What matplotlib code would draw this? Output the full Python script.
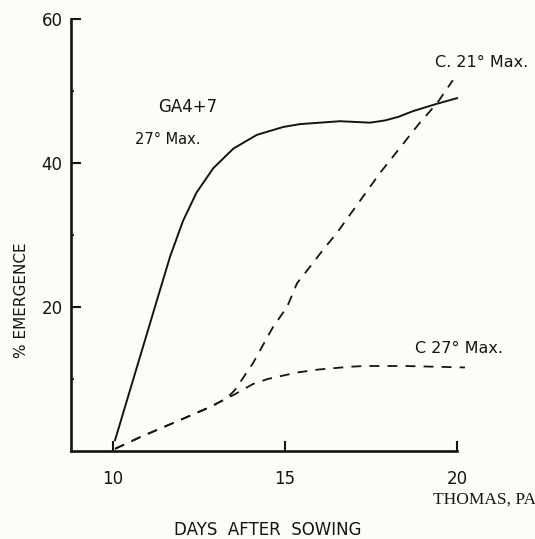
import matplotlib.pyplot as plt

# values (days after sowing, % emergence)
ga_days = [10.06, 11.32, 11.66, 12.04, 12.43, 12.92, 13.50, 14.18, 14.95, 15.44,
           16.60, 17.47, 17.90, 18.29, 18.72, 19.40, 20.0]
ga_pct = [1.5, 21.6, 27.0, 32.0, 35.9, 39.3, 42.0, 43.9, 45.0, 45.4,
          45.8, 45.6, 45.9, 46.4, 47.2, 48.2, 49.0]

c21_days = [10.06, 10.78, 11.95, 12.82, 13.30, 13.55, 14.07, 14.65, 15.06, 15.35,
            15.73, 16.10, 16.51, 17.76, 18.92, 19.42, 19.88]
c21_pct = [0.3, 1.9, 4.3, 6.1, 7.3, 8.5, 12.2, 17.2, 20.0, 23.3,
           25.6, 27.9, 30.3, 38.6, 45.6, 48.3, 51.5]

c27_days = [10.06, 10.78, 11.95, 12.82, 13.30, 13.55, 14.07, 14.50, 15.35, 15.95,
            16.89, 17.30, 18.50, 20.23]
c27_pct = [0.3, 1.9, 4.3, 6.1, 7.3, 7.9, 9.3, 10.0, 10.9, 11.3,
           11.7, 11.8, 11.8, 11.6]

x_ticks = [10, 15, 20]
y_ticks = [20, 40, 60]
y_minor = [10, 30, 50]

ink = "#141414"
paper = "#fcfcf8"

fig = plt.figure(figsize=(5.35, 5.39), dpi=100, facecolor=paper)
ax = fig.add_axes([0.1327, 0.1633, 0.818, 0.8015])
ax.set_facecolor(paper)
ax.set_xlim(8.78, 21.5)
ax.set_ylim(0, 60)

ax.plot(ga_days, ga_pct, color=ink, lw=1.4, clip_on=False)
ax.plot(c21_days, c21_pct, color=ink, lw=1.3, linestyle=(0, (5.5, 4.5)), clip_on=False)
ax.plot(c27_days, c27_pct, color=ink, lw=1.3, linestyle=(0, (5.5, 4.5)), clip_on=False)

# axes drawn like the hand-ruled original
for side in ["top", "right"]:
    ax.spines[side].set_visible(False)
for side in ["left", "bottom"]:
    ax.spines[side].set_linewidth(1.9)
    ax.spines[side].set_color(ink)
ax.spines["bottom"].set_bounds(8.78, 20)

ax.set_xticks(x_ticks)
ax.set_yticks(y_ticks)
ax.set_yticks(y_minor, minor=True)
ax.tick_params(which="major", direction="in", length=7, width=1.5, color=ink,
               labelsize=12, labelcolor=ink)
ax.tick_params(which="minor", direction="in", length=2.5, width=1.2, color=ink)
ax.tick_params(axis="x", pad=14)
ax.tick_params(axis="y", pad=6)

# curve labels
ax.text(11.31, 47.8, "GA4+7", fontsize=12, color=ink, va="center")
ax.text(10.64, 43.2, "27° Max.", fontsize=10.5, color=ink, va="center")
ax.text(19.36, 54.0, "C. 21° Max.", fontsize=11.5, color=ink, va="center")
ax.text(18.78, 14.3, "C 27° Max.", fontsize=11.5, color=ink, va="center")

fig.text(22 / 535, 1 - 300 / 539, "% EMERGENCE", rotation=90, fontsize=11,
         color=ink, ha="center", va="center")
fig.text(268 / 535, 1 - 530 / 539, "DAYS  AFTER  SOWING", fontsize=12,
         color=ink, ha="center", va="center")
fig.text(433 / 535, 1 - 500 / 539, "THOMAS, PA", fontsize=12.5, color=ink,
         family="Liberation Serif", ha="left", va="center")

fig.savefig("out.png", dpi=100, facecolor=paper)
